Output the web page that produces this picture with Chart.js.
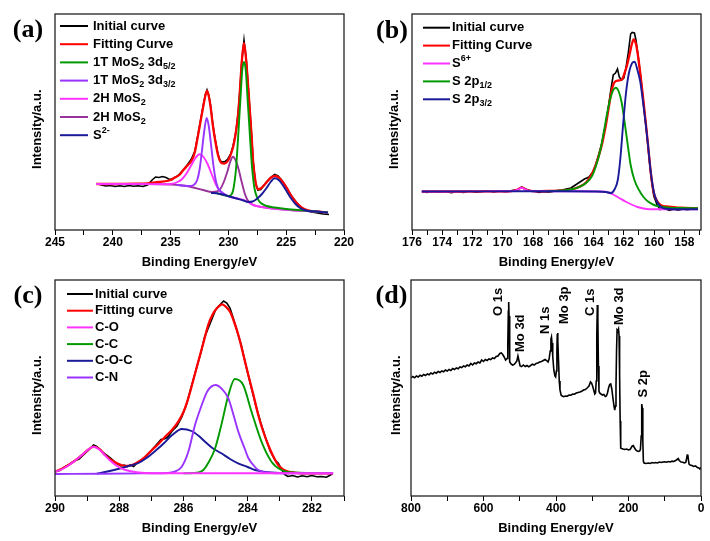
<!DOCTYPE html>
<html>
<head>
<meta charset="utf-8">
<script src="https://cdn.jsdelivr.net/npm/chart.js@4.4.0/dist/chart.umd.min.js"></script>
<style>
body{margin:0;background:#fff}
#wrap{position:relative;width:710px;height:541px;background:#fff}
canvas{position:absolute}
</style>
</head>
<body>
<div id="wrap">
<canvas id="ca" width="355" height="270" style="left:0;top:0"></canvas>
<canvas id="cb" width="355" height="270" style="left:355px;top:0"></canvas>
<canvas id="cc" width="355" height="271" style="left:0;top:270px"></canvas>
<canvas id="cd" width="355" height="271" style="left:355px;top:270px"></canvas>
</div>
<script>
// (a) Mo 3d region, [binding energy, intensity a.u.]
const aLabels = ['Initial curve','Fitting Curve','1T MoS_{2} 3d_{5/2}','1T MoS_{2} 3d_{3/2}','2H MoS_{2}','2H MoS_{2}','S^{2-}'];
const aInitial = [[241.4,46.5],[241.0,45],[240.6,44],[240.2,44.5],[239.8,43.5],[239.4,44.3],[239.0,43.5],[238.6,44.5],[238.2,43.8],[237.8,44.2],[237.4,43.5],[237.0,45],[236.6,50],[236.3,53],[236.0,52.5],[235.7,53.5],[235.4,52.5],[235.1,50.5],[234.8,51.5],[234.4,54],[233.9,60],[233.5,66],[233.2,71],[232.9,79],[232.7,91],[232.45,107],[232.2,123],[232.0,135],[231.85,140],[231.7,135],[231.55,125],[231.35,106],[231.15,91],[230.9,76],[230.7,69],[230.5,68],[230.3,68.5],[230.05,71],[229.8,76],[229.6,84],[229.35,98],[229.15,118],[229.0,141],[228.85,168],[228.65,190],[228.45,170],[228.3,146],[228.13,118],[228.0,96],[227.85,68],[227.65,47],[227.45,40],[227.2,40.5],[226.9,45],[226.6,49.5],[226.3,53],[226.0,55.5],[225.7,54],[225.4,50],[225.0,43],[224.6,35],[224.1,27.5],[223.6,21.5],[223.2,19],[222.8,18],[222.3,17],[221.8,16],[221.3,15.5]];
const aFitting = [[241.4,46],[240,46],[238,46.3],[237,46.7],[236,48],[235,50],[234.7,52],[234.2,55.5],[233.9,60],[233.5,65],[233.15,70],[232.9,78],[232.7,90],[232.45,106],[232.2,122],[232.0,134],[231.85,139],[231.7,134],[231.55,124],[231.35,105],[231.15,90],[230.9,75],[230.6,67],[230.35,66.5],[230.0,70],[229.75,77],[229.55,85],[229.35,98],[229.15,117],[229.0,140],[228.85,167],[228.65,187],[228.45,168],[228.3,145],[228.13,117],[228.0,95],[227.85,67],[227.65,48],[227.45,41],[227.2,41.5],[226.9,45],[226.6,49],[226.3,52.5],[226.0,54],[225.7,53],[225.4,49.5],[225.0,43],[224.6,35],[224.1,27],[223.6,22],[223.2,20],[222.5,18.5],[221.4,17.5]];
const a1T52 = [[231.0,36.7],[230.4,35],[230.0,34],[229.7,36],[229.55,42],[229.35,60],[229.12,100],[228.95,133],[228.8,160],[228.65,168],[228.5,160],[228.35,133],[228.17,100],[227.95,62],[227.75,42],[227.5,32],[227.2,27],[226.7,24],[226,22.5],[225,21],[223.5,19.5],[222.5,18.5],[221.4,17.5]];
const a1T32 = [[234.5,45],[234,44.5],[233.4,44],[233.0,45],[232.7,50],[232.5,60],[232.3,78],[232.1,98],[231.88,112],[231.7,104],[231.5,85],[231.3,65],[231.1,50],[230.9,42],[230.6,38],[230.2,35],[229.9,33.5],[229.3,31.5]];
const a2H1 = [[241.4,46],[238,46],[235.5,45.8],[235,46],[234.5,47.5],[234,51],[233.6,57],[233.2,65],[232.85,72],[232.5,75.7],[232.15,73],[231.8,66],[231.45,56],[231.1,46],[230.8,40],[230.5,36.5],[230.1,34.5],[229.9,33.5],[228.7,30],[228.3,28],[227.85,25],[226.7,22.3],[224.7,20],[222.5,18.5],[221.4,17.5]];
const a2H2 = [[241.4,46],[238,46],[235,45.5],[234,44.5],[233.3,43.3],[232.2,40],[231.4,38],[231.0,38.5],[230.7,41],[230.4,48],[230.1,58],[229.85,68],[229.6,73.3],[229.35,69],[229.1,60],[228.85,48],[228.6,37],[228.35,30],[228.1,27],[227.85,25],[226.7,22.3],[224.7,20],[222.5,18.5],[221.4,17.5]];
const aS2 = [[231.5,37],[231,36.7],[230.5,35.5],[229.9,33.5],[229.3,31.5],[228.7,29.5],[228.3,28],[227.9,28.5],[227.5,31.5],[227.1,36],[226.7,42],[226.35,48],[226.0,51.7],[225.65,50],[225.3,45],[224.95,38.5],[224.6,32],[224.2,26],[223.8,22],[223.3,19.5],[222.5,18.5],[221.4,17.5]];

// (b) S 2p region
const bLabels = ['Initial curve','Fitting Curve','S^{6+}','S 2p_{1/2}','S 2p_{3/2}'];
const bInitial = [[175.35,38.5],[175,37.5],[174.6,38.8],[174.2,37.8],[173.8,38.5],[173.4,37.3],[173,38.6],[172.6,37.6],[172.2,38.9],[171.8,37.8],[171.4,38.4],[171,39.2],[170.6,38],[170.2,39],[169.8,38.2],[169.4,39.5],[169.0,40.5],[168.75,43],[168.5,41],[168.2,39.5],[167.9,38.5],[167.6,37.5],[167.3,38.2],[167,37.8],[166.7,38.6],[166.4,39.5],[166.1,40],[165.8,41],[165.5,42],[165.2,45],[164.9,48],[164.6,51],[164.3,53],[164.05,58],[163.85,66],[163.65,76],[163.45,87],[163.25,102],[163.05,120],[162.85,141],[162.7,155],[162.55,157],[162.42,161],[162.3,153],[162.15,150],[162.0,152],[161.85,163],[161.7,178],[161.55,196],[161.45,197.5],[161.3,197],[161.2,190],[161.09,178],[160.9,155],[160.69,126],[160.5,99],[160.35,75],[160.2,53],[160.02,34],[159.8,25],[159.6,20.5],[159.3,21.5],[159,19.5],[158.7,20.8],[158.4,19.8],[158.1,21],[157.8,20.2],[157.5,21]];
const bFitting = [[175.35,38.5],[173,38.5],[171,38.6],[169.6,38.7],[169.1,40],[168.75,42.3],[168.4,40],[168.0,38.8],[167,39],[166,39.5],[165.35,41],[164.9,43.5],[164.5,47.5],[164.15,55],[163.9,63],[163.7,72],[163.47,84],[163.3,96],[163.13,110],[162.95,127],[162.8,140],[162.6,148],[162.35,149.5],[162.13,150.5],[161.95,157],[161.8,164],[161.6,177],[161.45,187],[161.35,190.5],[161.2,186],[161.09,177],[160.9,155],[160.69,127],[160.5,100],[160.35,77],[160.2,55],[160.02,37],[159.8,29],[159.57,25],[159.2,23.5],[158.24,22.3],[157.1,21.7]];
const bS6 = [[175.35,38.5],[172,38.6],[170,38.7],[169.4,38.8],[169.0,40.5],[168.75,42.3],[168.5,40.5],[168.1,38.8],[167,38.7],[165,38.7],[163.5,38.5],[163,37.5],[162.7,35.5],[162.3,32],[161.9,28.5],[161.5,25.5],[161.1,23],[160.7,21.5],[160.3,20.8],[159.5,20.7],[158,20.7],[157.1,20.7]];
const bP12 = [[167,38.7],[166,39.5],[165.35,41],[164.9,43.3],[164.5,47],[164.1,54],[163.8,66],[163.55,80],[163.3,100],[163.1,117],[162.9,131],[162.7,140],[162.53,142.3],[162.35,139],[162.15,128],[161.95,108],[161.75,86],[161.55,65],[161.3,50],[161.0,40],[160.7,33],[160.4,28.5],[160.0,25],[159.6,23.5],[159,22.3],[158.2,22],[157.1,21.7]];
const bP32 = [[175.35,38.5],[172,38.6],[169,38.7],[166,38.7],[164,38.5],[163.2,38],[162.85,37],[162.6,41],[162.4,50],[162.24,70],[162.05,105],[161.85,138],[161.65,158],[161.45,167],[161.29,168.3],[161.1,160],[160.91,148],[160.75,130],[160.57,108],[160.4,85],[160.25,62],[160.1,45],[159.95,34],[159.75,27],[159.5,22.5],[159,21],[158,20.8],[157.1,20.8]];

// (c) C 1s region
const cLabels = ['Initial curve','Fitting curve','C-O','C-C','C-O-C','C-N'];
const cInitial = [[290,24.5],[289.85,25.5],[289.7,29],[289.55,31.5],[289.4,35],[289.25,37],[289.1,41.5],[288.95,46],[288.8,51],[288.7,49.5],[288.55,45],[288.4,41],[288.25,37.5],[288.1,33],[287.95,30],[287.85,31],[287.75,29.5],[287.65,31],[287.55,29.5],[287.45,33],[287.3,36],[287.15,40.5],[287.0,45.5],[286.85,51],[286.7,56.5],[286.6,57],[286.5,58.5],[286.35,65],[286.2,70],[286.05,79],[285.9,92],[285.75,110],[285.6,127],[285.45,144],[285.35,158],[285.25,166],[285.1,178],[285.0,186],[284.9,190],[284.75,195],[284.65,193],[284.55,188],[284.45,178],[284.35,167],[284.2,151],[284.05,130],[283.9,110],[283.75,91],[283.6,74],[283.45,59],[283.3,45],[283.15,36],[283.05,33],[282.95,27],[282.85,21.5],[282.75,19.5],[282.6,20.5],[282.45,19],[282.3,20.2],[282.15,19.3],[282.0,20.5],[281.85,19.2],[281.7,19.5],[281.55,18.8],[281.45,20.5],[281.35,22.5]];
const cFitting = [[290,24.3],[289.8,27],[289.58,31],[289.35,36],[289.16,41],[288.98,46],[288.8,49.3],[288.62,47],[288.44,41],[288.25,36],[288.07,32.7],[287.9,30.5],[287.76,30],[287.6,31],[287.4,34.3],[287.2,39],[286.98,46],[286.78,52],[286.57,59.3],[286.36,66],[286.16,74.3],[286.0,84],[285.85,97.7],[285.7,115],[285.54,134.3],[285.38,153],[285.23,171],[285.1,181],[284.96,187.7],[284.79,191.7],[284.67,189],[284.55,184.3],[284.42,174],[284.29,161],[284.14,142],[283.98,121],[283.82,101],[283.67,81],[283.52,65],[283.36,51],[283.2,39.5],[283.05,31],[282.9,26.5],[282.74,24.3],[282.5,23.2],[282.12,22.7],[281.34,22.7]];
const cCO = [[290,24],[289.8,26.5],[289.58,30.5],[289.35,36],[289.16,41],[288.98,46],[288.8,49.3],[288.62,46.5],[288.44,40.5],[288.25,34.5],[288.07,30],[287.85,26.5],[287.6,24.5],[287.3,23.3],[286.8,22.8],[285,22.7],[283,22.7],[281.34,22.7]];
const cCC = [[286,22.7],[285.7,23],[285.54,23.5],[285.38,26],[285.23,33],[285.02,47],[284.82,71],[284.6,101],[284.4,117],[284.14,111],[283.88,84.3],[283.57,54.3],[283.26,34.3],[282.95,26],[282.54,23.5],[282,23],[281.34,23]];
const cCOC = [[288.7,22.3],[288.44,24],[288.1,26.5],[287.92,28],[287.65,30.5],[287.4,33],[287.15,38],[286.88,45],[286.6,53],[286.35,61],[286.05,67],[285.75,65],[285.5,59.5],[285.33,54.3],[285.1,48],[284.82,42.7],[284.55,37],[284.3,32.7],[284.0,29],[283.77,26],[283.5,24.3],[283.26,23.5],[283.0,23],[282.7,22.7]];
const cCN = [[290,22],[288.5,22.3],[287,22.7],[286.5,23],[286.3,24],[286.06,29],[285.85,44],[285.64,71],[285.43,91],[285.25,105],[285.0,111],[284.8,107],[284.6,97.7],[284.45,82],[284.29,64.3],[284.1,48],[283.98,38],[283.8,30],[283.67,26],[283.4,23.5],[283,22.8],[282,22.7],[281.34,22.7]];

// (d) survey spectrum
const dSurvey = [[800,118],[795,119.5],[790,118.2],[785,120],[780,119],[775,120.8],[770,119.8],[765,121.5],[760,120.5],[755,122],[750,121.2],[745,123],[740,122],[735,123.8],[730,122.8],[725,124.5],[720,123.5],[715,125],[710,124.2],[705,126],[700,125],[695,126.5],[690,125.5],[685,127.5],[680,126.5],[675,128],[670,127.2],[665,129],[660,128.5],[655,130],[650,129.3],[645,131],[640,130],[635,132.5],[630,131],[625,133],[620,132.3],[615,134],[610,133],[605,136],[600,134.5],[595,136.5],[590,135.5],[585,137],[580,136.5],[575,138],[570,137.5],[565,139.5],[560,140],[555,142.5],[551,143],[547,141.5],[543,139],[539,136],[535,137.5],[533,150],[531.5,185],[530.5,194],[529.5,180],[528.5,150],[527,134],[524,132],[520,131],[516,131.5],[512,133],[508,135],[505,140],[502,135],[499,130],[495,129.5],[490,131],[485,129.5],[480,130.5],[475,129.2],[470,130.5],[465,131.8],[460,131],[455,132.5],[450,133],[445,134],[440,134.5],[435,135.5],[430,136.5],[426,135.5],[422,134],[419,137],[416,145],[414,157],[412.5,159],[411,153],[409,140],[406,126],[403,120],[401,119],[399,125],[397.5,145],[396.5,162],[395.5,163],[394.5,155],[393,135],[391,115],[389,106],[386,101],[383,100],[379,99.3],[374,100],[369,99.8],[364,101],[359,100.8],[354,102],[349,101.8],[344,103],[339,103.5],[334,104],[329,104.8],[324,106],[319,106.5],[314,108],[309,110],[305,114],[302,113],[299,110],[296,106],[293,102],[291,103],[289,115],[287.5,160],[286,191],[284.5,175],[283,130],[281.5,105],[279.5,103],[276,102],[272,101],[268,101.5],[264,99.5],[261,100],[258,103],[255,108],[252,111.5],[249,112],[246,107],[243,98],[240,90],[238,86],[236,90],[234.5,110],[233,145],[231.5,166],[229.5,165],[227.5,167],[226,160],[224.5,120],[223,75],[221.5,48],[219,47.5],[215,47],[210,46.5],[205,47],[200,46],[196,46.5],[193,48],[190,50],[187,50.5],[184,48.5],[180,46],[176,45],[172,44.5],[169,45],[167,47],[165,60],[163.5,92],[162,88],[160.5,55],[159,35],[157,33],[152,32.5],[145,33],[140,32.5],[135,33.5],[130,33],[125,33.5],[120,33],[115,34],[110,33.5],[105,34],[100,34.2],[95,33.8],[90,34.5],[85,34],[80,34.8],[75,34.5],[70,35.5],[66,36.5],[63,37.5],[60,35.5],[55,34],[50,33.8],[46,33],[42,33.5],[40,37],[38,41],[36.5,41.5],[35,37],[33,32],[30,31],[25,30.5],[20,29.5],[15,30],[10,28.5],[6,28],[3,27],[0,28.5]];
const dPeakNames = ['O 1s','Mo 3d','N 1s','Mo 3p','C 1s','Mo 3d','S 2p'];
const dPeakE = [559, 497, 430, 377, 306, 226, 160];
const dPeakV = [180, 144, 162, 172, 180, 171, 98.5];

const SANS = '"Liberation Sans", Arial, sans-serif';
const BLACK = '#000000', RED = '#ff0000', GREEN = '#009900', VIOLET = '#9933ff',
      MAGENTA = '#ff33ff', PURPLE = '#993399', NAVY = '#1a1a99';

function drawRich(ctx, text, x, y, size) {
  var parts = text.split(/(_\{[^}]*\}|\^\{[^}]*\})/);
  for (var i = 0; i < parts.length; i++) {
    var p = parts[i];
    if (!p) continue;
    var t = p, s = size, dy = 0;
    if (p.indexOf('_{') === 0) { t = p.slice(2, -1); s = Math.round(size * 0.7); dy = size * 0.32; }
    else if (p.indexOf('^{') === 0) { t = p.slice(2, -1); s = Math.round(size * 0.7); dy = -size * 0.38; }
    ctx.font = 'bold ' + s + 'px ' + SANS;
    ctx.fillText(t, x, y + dy);
    x += ctx.measureText(t).width;
  }
}

function decor(cfg) {
  return {
    id: 'decor',
    afterDraw: function (chart) {
      var ctx = chart.ctx, a = chart.chartArea;
      ctx.save();
      ctx.strokeStyle = '#222';
      ctx.lineWidth = 1.3;
      ctx.strokeRect(a.left, a.top, a.right - a.left, a.bottom - a.top);

      ctx.fillStyle = '#000';
      ctx.font = 'bold 26px "Liberation Serif", "Times New Roman", serif';
      ctx.textAlign = 'center';
      ctx.textBaseline = 'middle';
      ctx.fillText(cfg.tag, cfg.tagX, cfg.tagY);

      if (cfg.legend) {
        var L = cfg.legend;
        chart.data.datasets.forEach(function (ds, i) {
          var y = L.y0 + i * L.dy;
          ctx.strokeStyle = ds.borderColor;
          ctx.lineWidth = 2;
          ctx.beginPath();
          ctx.moveTo(L.x0, y);
          ctx.lineTo(L.x1, y);
          ctx.stroke();
          ctx.fillStyle = '#000';
          ctx.textAlign = 'left';
          drawRich(ctx, ds.label, L.tx, y, 13);
        });
      }

      if (cfg.peaks) {
        var xs = chart.scales.x, ys = chart.scales.y;
        ctx.fillStyle = '#000';
        ctx.font = 'bold 13px ' + SANS;
        ctx.textAlign = 'left';
        ctx.textBaseline = 'middle';
        cfg.peaks.names.forEach(function (n, j) {
          ctx.save();
          ctx.translate(xs.getPixelForValue(cfg.peaks.e[j]), ys.getPixelForValue(cfg.peaks.v[j]));
          ctx.rotate(-Math.PI / 2);
          ctx.fillText(n, 0, 0);
          ctx.restore();
        });
      }
      ctx.restore();
    }
  };
}

function panel(id, cfg) {
  var ds = cfg.series.map(function (s) {
    return {
      label: s.label,
      data: s.data.map(function (p) { return {x: p[0], y: p[1]}; }),
      borderColor: s.color,
      borderWidth: s.width || 1.9,
      pointRadius: 0,
      fill: false,
      tension: 0,
      cubicInterpolationMode: s.smooth ? 'monotone' : 'default',
      order: s.order
    };
  });
  return new Chart(document.getElementById(id), {
    type: 'line',
    data: {datasets: ds},
    options: {
      responsive: false,
      animation: false,
      events: [],
      layout: {padding: cfg.pad},
      plugins: {legend: {display: false}, tooltip: {enabled: false}},
      scales: {
        x: {
          type: 'linear', reverse: true, min: cfg.xmin, max: cfg.xmax,
          afterFit: function (s) { s.height = cfg.xh; s.paddingLeft = 0; s.paddingRight = 0; },
          border: {display: false},
          grid: {display: true, drawOnChartArea: false, drawTicks: true, tickLength: 5, color: '#000', lineWidth: 1},
          ticks: {
            stepSize: cfg.step, includeBounds: false, autoSkip: false, maxRotation: 0, padding: 0,
            color: '#000', font: {family: SANS, size: 12, weight: 'bold'},
            callback: function (v) { return Math.abs(v % cfg.major) < 1e-6 ? v : ''; }
          },
          title: {display: true, text: 'Binding Energy/eV', color: '#000',
                  font: {family: SANS, size: 13, weight: 'bold'}, padding: {top: 0, bottom: cfg.xtb}}
        },
        y: {
          type: 'linear', min: 0, max: 216,
          afterFit: function (s) { s.width = cfg.yw; s.paddingTop = 0; s.paddingBottom = 0; },
          ticks: {display: false},
          grid: {display: false},
          border: {display: false},
          title: {display: true, text: 'Intensity/a.u.    ', color: '#000',
                  font: {family: SANS, size: 13, weight: 'bold'}, padding: {top: cfg.ytp, bottom: 0}}
        }
      }
    },
    plugins: [decor(cfg)]
  });
}

panel('ca', {
  tag: '(a)', tagX: 28, tagY: 30,
  pad: {top: 14, right: 11, left: 0, bottom: 0}, xh: 40, yw: 55, xtb: 0, ytp: 30,
  xmin: 220, xmax: 245, step: 2.5, major: 5,
  legend: {x0: 60, x1: 88, tx: 93, y0: 26, dy: 18.2},
  series: [
    {label: aLabels[0], data: aInitial, color: BLACK, order: 10, width: 1.6},
    {label: aLabels[1], data: aFitting, color: RED, order: 5, smooth: true, width: 2.3},
    {label: aLabels[2], data: a1T52, color: GREEN, order: 1, smooth: true},
    {label: aLabels[3], data: a1T32, color: VIOLET, order: 2, smooth: true},
    {label: aLabels[4], data: a2H1, color: MAGENTA, order: 3, smooth: true},
    {label: aLabels[5], data: a2H2, color: PURPLE, order: 4, smooth: true},
    {label: aLabels[6], data: aS2, color: NAVY, order: 0, smooth: true}
  ]
});

panel('cb', {
  tag: '(b)', tagX: 37, tagY: 31,
  pad: {top: 14, right: 9, left: 0, bottom: 0}, xh: 40, yw: 57, xtb: 0, ytp: 32,
  xmin: 156.9, xmax: 176, step: 1, major: 2,
  legend: {x0: 68, x1: 95, tx: 97, y0: 27.7, dy: 17.9},
  series: [
    {label: bLabels[0], data: bInitial, color: BLACK, order: 10, width: 1.6},
    {label: bLabels[1], data: bFitting, color: RED, order: 5, smooth: true, width: 2.3},
    {label: bLabels[2], data: bS6, color: MAGENTA, order: 2, smooth: true},
    {label: bLabels[3], data: bP12, color: GREEN, order: 1, smooth: true},
    {label: bLabels[4], data: bP32, color: NAVY, order: 0, smooth: true}
  ]
});

panel('cc', {
  tag: '(c)', tagX: 28, tagY: 26.5,
  pad: {top: 10, right: 11, left: 0, bottom: 0}, xh: 45, yw: 55, xtb: 5, ytp: 30,
  xmin: 281, xmax: 290, step: 1, major: 2,
  legend: {x0: 67, x1: 93, tx: 95, y0: 24, dy: 16.7},
  series: [
    {label: cLabels[0], data: cInitial, color: BLACK, order: 10, width: 1.6},
    {label: cLabels[1], data: cFitting, color: RED, order: 5, smooth: true, width: 2.3},
    {label: cLabels[2], data: cCO, color: MAGENTA, order: 0, smooth: true},
    {label: cLabels[3], data: cCC, color: GREEN, order: 2, smooth: true},
    {label: cLabels[4], data: cCOC, color: NAVY, order: 3, smooth: true},
    {label: cLabels[5], data: cCN, color: VIOLET, order: 1, smooth: true}
  ]
});

panel('cd', {
  tag: '(d)', tagX: 36.5, tagY: 26,
  pad: {top: 10, right: 9, left: 0, bottom: 0}, xh: 45, yw: 56, xtb: 5, ytp: 34,
  xmin: 0, xmax: 800, step: 100, major: 200,
  peaks: {names: dPeakNames, e: dPeakE, v: dPeakV},
  series: [
    {label: 'Survey', data: dSurvey, color: BLACK, order: 0, width: 1.6}
  ]
});
</script>
</body>
</html>
